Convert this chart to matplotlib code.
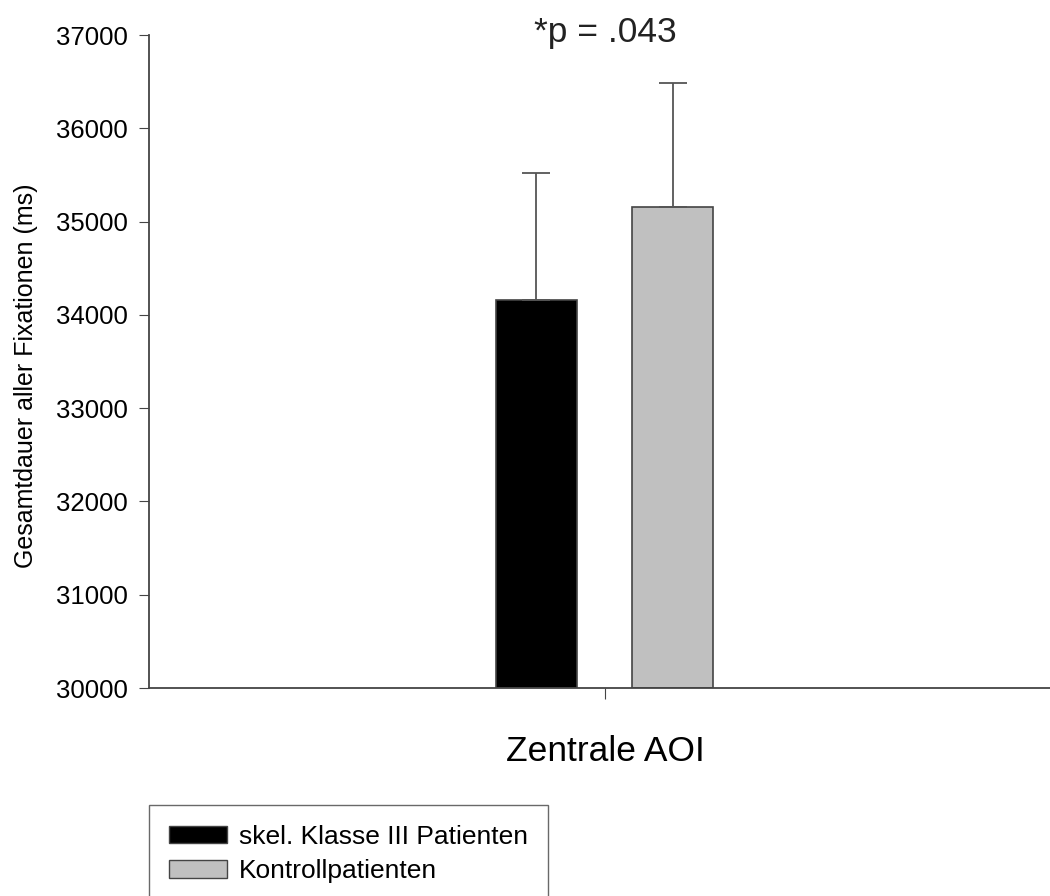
import numpy as np
import matplotlib.pyplot as plt
from matplotlib.patches import Patch

plt.rcParams['font.family'] = ['Liberation Sans', 'DejaVu Sans']

# data
groups = ['skel. Klasse III Patienten', 'Kontrollpatienten']
means = [34160, 35155]
errors = [1360, 1330]
category = 'Zentrale AOI'
colors = ['black', '#c0c0c0']
yticks = np.arange(30000, 37001, 1000)

fig = plt.figure(figsize=(10.5, 8.96), dpi=100)
ax = fig.add_axes([0.1419, 0.2321, 0.8686, 0.7288])

offsets = [-0.151, 0.148]
for off, m, e, c in zip(offsets, means, errors, colors):
    ax.bar(off, m - 30000, bottom=30000, width=0.178, color=c,
           edgecolor='#444444', linewidth=1.2)
    ax.errorbar(off, m, yerr=[[0], [e]], fmt='none', ecolor='#555555',
                elinewidth=1.3, capsize=10, capthick=1.3)

ax.set_xlim(-1, 1)
ax.set_ylim(30000, 37000)
ax.set_yticks(yticks)
ax.set_yticklabels([str(t) for t in yticks], fontsize=18.5)
ax.set_xticks([0])
ax.set_xticklabels([category], fontsize=25.5)
ax.tick_params(axis='x', length=8, pad=26, color='#444444')
ax.tick_params(axis='y', length=7, pad=8, color='#444444')
for s in ['top', 'right']:
    ax.spines[s].set_visible(False)
for s in ['left', 'bottom']:
    ax.spines[s].set_color('#444444')
    ax.spines[s].set_linewidth(1.3)

ax.set_ylabel('Gesamtdauer aller Fixationen (ms)', fontsize=18)
ax.yaxis.set_label_coords(-0.122, 0.478)
ax.text(0, 37030, '*p = .043', ha='center', va='center', fontsize=25.5,
        color='#222222')

handles = [Patch(facecolor=c, edgecolor='#444444') for c in colors]
fig.legend(handles, groups, loc='upper left',
           bbox_to_anchor=(149 / 1050, 1 - 805 / 896), fontsize=19,
           frameon=True, fancybox=False, edgecolor='#444444',
           handlelength=2.2, handleheight=0.65, handletextpad=0.45,
           borderpad=0.75, labelspacing=0.4, borderaxespad=0)

fig.savefig('out.png', dpi=100)
